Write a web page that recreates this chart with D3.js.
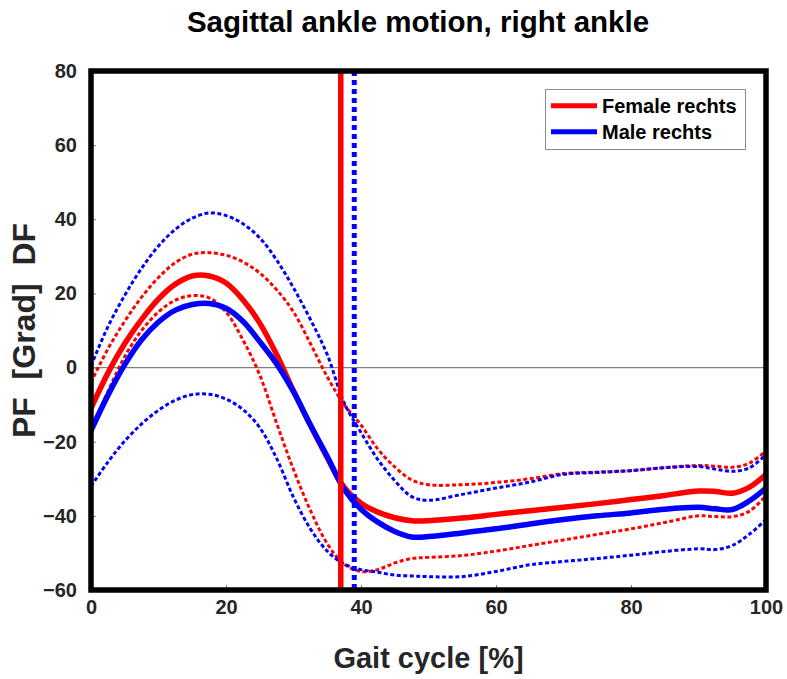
<!DOCTYPE html>
<html>
<head>
<meta charset="utf-8">
<script src="https://cdn.jsdelivr.net/npm/d3@7"></script>
<style>
  html, body { margin: 0; padding: 0; background: #fff; }
  svg { display: block; font-family: "Liberation Sans", Arial, sans-serif; }
</style>
</head>
<body>
<svg id="chart" width="787" height="679"></svg>
<script>
// Gait cycle sample positions (% of stride)
const gaitPct = [0, 2.5, 5, 7.5, 10, 12.5, 15, 17.5, 20, 22.5, 25, 27.5, 30, 32.5, 35, 37.5,
                 40, 42.5, 45, 47.5, 50, 55, 60, 65, 70, 75, 80, 85, 90, 92.5, 95, 97.5, 100];

// Female, right ankle: mean and mean ± SD (degrees)
const femaleMean  = [-11, -1.5, 6.5, 13, 18.5, 22.5, 24.7, 24.7, 22.8, 18.3, 12, 3.5, -6.3, -15.5, -24.3, -32.3,
                     -36.6, -39, -40.5, -41.3, -41.3, -40.6, -39.6, -38.6, -37.7, -36.7, -35.6, -34.5, -33.3, -33.4, -33.9, -32.3, -28.8];
const femaleUpper = [-4, 5, 12.5, 19, 24.3, 28.3, 30.6, 31, 30.3, 28.5, 25.5, 21, 15, 6.5, -2.5, -10,
                     -15.5, -22, -26.8, -30.3, -31.6, -31.6, -31, -30, -28.6, -28.2, -27.8, -27, -26.4, -26.6, -26.9, -25.8, -22.5];
const femaleLower = [-16.5, -6.5, 3, 10, 15, 18.2, 19.4, 18.8, 15, 7.5, -2, -15, -27.5, -38.5, -47.5, -53,
                     -55, -54.5, -52.7, -51.5, -51.2, -50.7, -49.5, -48, -46.5, -45, -43.5, -41.8, -40, -40.2, -40.2, -38.8, -34.5];

// Male, right ankle: mean and mean ± SD (degrees)
const maleMean  = [-17, -7.5, 0.8, 7.5, 12.3, 15.5, 17, 17.3, 16, 12.5, 7, 1, -6.5, -15.5, -24, -32.8,
                   -38.2, -41.7, -44.2, -45.7, -45.6, -44.6, -43.5, -42.2, -41, -40, -39.2, -38.2, -37.7, -38.1, -38.3, -36, -32.5];
const maleUpper = [0.5, 11, 19.5, 26.8, 32.8, 37.3, 40.3, 41.7, 41, 38.8, 35, 29, 21.5, 13, 3.5, -9.5,
                   -17.5, -24.8, -30.5, -34.8, -35.8, -34.2, -32.5, -30.9, -28.8, -28.3, -27.8, -27, -26.7, -27.4, -28, -27.1, -23.5];
const maleLower = [-32, -25.5, -19.8, -15.2, -11.5, -8.8, -7.3, -7.2, -8.5, -11.3, -16.2, -24.5, -35, -43.5, -49.5, -53,
                   -54.5, -55.2, -56, -56.2, -56.4, -56.4, -55, -53.2, -52.3, -51.5, -50.6, -49.6, -48.9, -49.1, -48, -45, -41];

// Toe-off (% gait cycle)
const toeOffFemale = 37;
const toeOffMale = 39;

// Axis ticks
const xTicks = [0, 20, 40, 60, 80, 100];
const yTicks = [-60, -40, -20, 0, 20, 40, 60, 80];

// Legend entries
const legendLabels = ["Female rechts", "Male rechts"];

const RED = "#ff0000", BLUE = "#0000ff";
const AXIS_TEXT = "#262626";

const svg = d3.select("#chart");
const margin = { left: 91, top: 71, right: 21, bottom: 89 };
const W = 787, H = 679;
const iw = W - margin.left - margin.right;
const ih = H - margin.top - margin.bottom;

const x = d3.scaleLinear().domain([0, 100]).range([margin.left, margin.left + iw]);
const y = d3.scaleLinear().domain([-60, 80]).range([margin.top + ih, margin.top]);

svg.append("defs").append("clipPath").attr("id", "plotClip")
  .append("rect").attr("x", margin.left).attr("y", margin.top).attr("width", iw).attr("height", ih);

// Title
svg.append("text")
  .attr("x", 418).attr("y", 32)
  .attr("text-anchor", "middle")
  .attr("font-size", 29.5).attr("font-weight", "bold").attr("fill", "#000")
  .text("Sagittal ankle motion, right ankle");

// Axis tick marks and labels
const yAxis = d3.axisLeft(y).tickValues(yTicks).tickSize(-5).tickPadding(14).tickFormat(d3.format("d"));
const gy = svg.append("g").attr("transform", `translate(${margin.left},0)`).call(yAxis);
gy.select(".domain").remove();
gy.selectAll(".tick line").attr("stroke", "#808080").attr("stroke-width", 1);
gy.selectAll(".tick text").attr("font-size", 20).attr("font-weight", "bold").attr("fill", AXIS_TEXT)
  .attr("font-family", "Liberation Sans, Arial, sans-serif");

const xAxis = d3.axisBottom(x).tickValues(xTicks).tickSize(-5).tickPadding(10).tickFormat(d3.format("d"));
const gx = svg.append("g").attr("transform", `translate(0,${margin.top + ih})`).call(xAxis);
gx.select(".domain").remove();
gx.selectAll(".tick line").attr("stroke", "#808080").attr("stroke-width", 1);
gx.selectAll(".tick text").attr("font-size", 20).attr("font-weight", "bold").attr("fill", AXIS_TEXT)
  .attr("font-family", "Liberation Sans, Arial, sans-serif");

// Axis labels
svg.append("text")
  .attr("x", x(50)).attr("y", 668)
  .attr("text-anchor", "middle")
  .attr("font-size", 29).attr("font-weight", "bold").attr("fill", AXIS_TEXT)
  .text("Gait cycle [%]");

svg.append("text")
  .attr("transform", `translate(35,${y(10)}) rotate(-90)`)
  .attr("text-anchor", "middle")
  .attr("font-size", 32).attr("font-weight", "bold").attr("fill", AXIS_TEXT)
  .style("white-space", "pre")
  .text("PF  [Grad]  DF");

const plot = svg.append("g").attr("clip-path", "url(#plotClip)");

// Zero reference line
plot.append("line")
  .attr("x1", x(0)).attr("x2", x(100)).attr("y1", y(0)).attr("y2", y(0))
  .attr("stroke", "#808080").attr("stroke-width", 1.2);

const line = d3.line()
  .x((d, i) => x(gaitPct[i]))
  .y(d => y(d))
  .curve(d3.curveCatmullRom.alpha(0.5));

function drawCurve(values, color, width, dash) {
  plot.append("path")
    .attr("d", line(values))
    .attr("fill", "none")
    .attr("stroke", color)
    .attr("stroke-width", width)
    .attr("stroke-dasharray", dash || null)
    .attr("stroke-linejoin", "round");
}

drawCurve(femaleUpper, RED, 3, "4,2.5");
drawCurve(femaleLower, RED, 3, "4,2.5");
drawCurve(femaleMean, RED, 5.5);
drawCurve(maleUpper, BLUE, 3, "4,2.5");
drawCurve(maleLower, BLUE, 3, "4,2.5");
drawCurve(maleMean, BLUE, 5.5);

// Toe-off markers
plot.append("line")
  .attr("x1", x(toeOffFemale)).attr("x2", x(toeOffFemale)).attr("y1", y(80)).attr("y2", y(-60))
  .attr("stroke", RED).attr("stroke-width", 5.5);
plot.append("line")
  .attr("x1", x(toeOffMale)).attr("x2", x(toeOffMale)).attr("y1", y(80)).attr("y2", y(-60))
  .attr("stroke", BLUE).attr("stroke-width", 5).attr("stroke-dasharray", "5,4");

// Plot frame
svg.append("rect")
  .attr("x", margin.left).attr("y", margin.top).attr("width", iw).attr("height", ih)
  .attr("fill", "none").attr("stroke", "#000").attr("stroke-width", 5.5);

// Legend
const lg = svg.append("g");
lg.append("rect")
  .attr("x", 545.5).attr("y", 89.5).attr("width", 200).attr("height", 60)
  .attr("fill", "#fff").attr("stroke", "#8c8c8c").attr("stroke-width", 1);
const legendColors = [RED, BLUE];
legendLabels.forEach((lab, i) => {
  const ly = 105.7 + i * 26;
  lg.append("line").attr("x1", 551).attr("x2", 597).attr("y1", ly).attr("y2", ly)
    .attr("stroke", legendColors[i]).attr("stroke-width", 5);
  lg.append("text").attr("x", 602).attr("y", ly + 7)
    .attr("font-size", 20).attr("font-weight", "bold").attr("fill", "#000")
    .text(lab);
});
</script>
</body>
</html>
